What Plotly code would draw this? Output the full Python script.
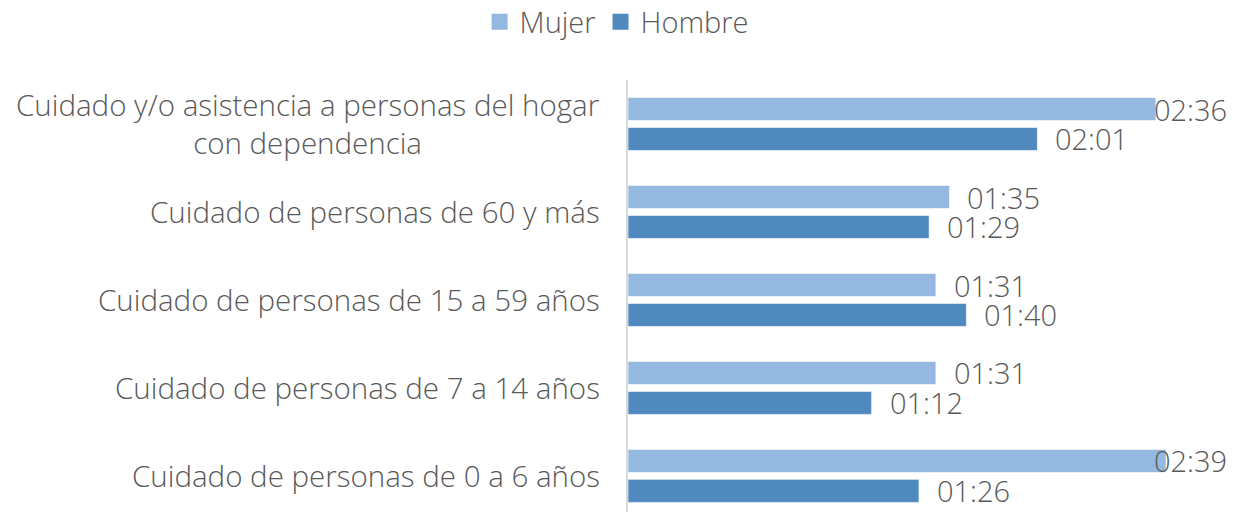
import plotly.graph_objects as go

categories = [
    "Cuidado y/o asistencia a personas del hogar<br>con dependencia",
    "Cuidado de personas de 60 y más",
    "Cuidado de personas de 15 a 59 años",
    "Cuidado de personas de 7 a 14 años",
    "Cuidado de personas de 0 a 6 años",
]
mujer_min = [156, 95, 91, 91, 159]
hombre_min = [121, 89, 100, 72, 86]
mujer_lbl = ["02:36", "01:35", "01:31", "01:31", "02:39"]
hombre_lbl = ["02:01", "01:29", "01:40", "01:12", "01:26"]

C_MUJER = "#95B8E0"
C_HOMBRE = "#4F89BD"
TXT = "#595959"
FONT = "Open Sans"
WEIGHT = 300

# page body has an 8px margin: figure is drawn 8px right/down
W, H = 1227, 504
ML, MR, MT, MB = 620, 0, 72, 0
XMAX = 179.4
px_per = (W - ML - MR) / XMAX
LBL_W = 83
LBL_GAP = 16

fig = go.Figure()
fig.add_trace(go.Bar(name="Mujer", y=categories, x=mujer_min, orientation="h",
                     marker=dict(color=C_MUJER, line=dict(color="#ffffff", width=0.6)),
                     hoverinfo="skip", showlegend=False))
fig.add_trace(go.Bar(name="Hombre", y=categories, x=hombre_min, orientation="h",
                     marker=dict(color=C_HOMBRE, line=dict(color="#ffffff", width=0.6)),
                     hoverinfo="skip", showlegend=False))
# legend swatches (square markers)
for name, col in (("Mujer", C_MUJER), ("Hombre", C_HOMBRE)):
    fig.add_trace(go.Scatter(name=name, x=[None], y=[None], mode="markers",
                             marker=dict(symbol="square", size=16, color=col),
                             hoverinfo="skip"))

annotations = []
for i, cat in enumerate(categories):
    for vals, lbls, off in ((mujer_min, mujer_lbl, -1), (hombre_min, hombre_lbl, 1)):
        v = vals[i]
        left_px = v * px_per + LBL_GAP
        max_left = (W - ML - MR) - LBL_W
        left_px = min(left_px, max_left)
        annotations.append(dict(
            x=left_px / px_per, y=i + off * 0.17, xref="x", yref="y",
            text=lbls[i], showarrow=False, xanchor="left", yanchor="middle",
            font=dict(family=FONT, size=29, color=TXT, weight=WEIGHT)))
    annotations.append(dict(
        x=0, y=i, xref="paper", yref="y", text=cat, showarrow=False,
        xanchor="right", yanchor="middle", align="center", xshift=-26,
        font=dict(family=FONT, size=29.5, color=TXT, weight=WEIGHT)))

fig.update_layout(
    width=W, height=H,
    margin=dict(l=ML, r=MR, t=MT, b=MB),
    paper_bgcolor="white", plot_bgcolor="white",
    barmode="group", bargap=0.32, bargroupgap=0.23,
    font=dict(family=FONT, color=TXT),
    showlegend=True,
    legend=dict(orientation="h", xref="container", yref="container",
                x=0.496, y=1 - 14 / H, xanchor="center", yanchor="middle",
                font=dict(family=FONT, size=29, color=TXT, weight=WEIGHT),
                itemwidth=30, traceorder="normal"),
    annotations=annotations,
)
fig.update_xaxes(range=[0, XMAX], showgrid=False, zeroline=False,
                 showticklabels=False, showline=False)
fig.update_yaxes(range=[len(categories) - 0.59, -0.5], showgrid=False,
                 zeroline=False, showticklabels=False, showline=True,
                 linecolor="#D9D9D9", linewidth=2, ticks="",
                 type="category")

fig.write_html("out.html")
